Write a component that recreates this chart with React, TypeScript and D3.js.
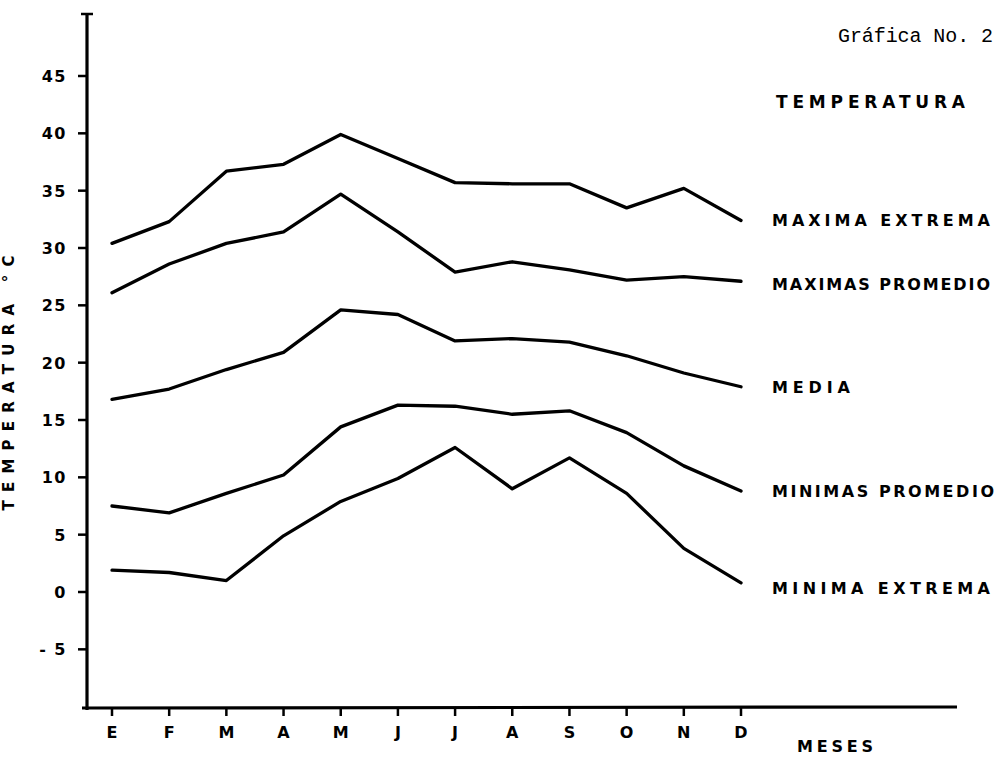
import React from "react";
import * as d3 from "d3";

const months = ["E", "F", "M", "A", "M", "J", "J", "A", "S", "O", "N", "D"];
const yTicks = [-5, 0, 5, 10, 15, 20, 25, 30, 35, 40, 45];

const maximaExtrema = [30.4, 32.3, 36.7, 37.3, 39.9, 37.8, 35.7, 35.6, 35.6, 33.5, 35.2, 32.4];
const maximasPromedio = [26.1, 28.6, 30.4, 31.4, 34.7, 31.4, 27.9, 28.8, 28.1, 27.2, 27.5, 27.1];
const media = [16.8, 17.7, 19.4, 20.9, 24.6, 24.2, 21.9, 22.1, 21.8, 20.6, 19.1, 17.9];
const minimasPromedio = [7.5, 6.9, 8.6, 10.2, 14.4, 16.3, 16.2, 15.5, 15.8, 13.9, 11.0, 8.8];
const minimaExtrema = [1.9, 1.7, 1.0, 4.9, 7.9, 9.9, 12.6, 9.0, 11.7, 8.6, 3.8, 0.8];

const seriesNames = ["MAXIMA EXTREMA", "MAXIMAS PROMEDIO", "MEDIA", "MINIMAS PROMEDIO", "MINIMA EXTREMA"];
const seriesValues = [maximaExtrema, maximasPromedio, media, minimasPromedio, minimaExtrema];

const W = 998;
const H = 757;

export default function App() {
  const y = d3.scaleLinear().domain([0, 45]).range([592, 76]);
  const x = d3.scalePoint<number>().domain(d3.range(months.length)).range([112, 741]);
  const line = d3
    .line<number>()
    .x((_, i) => x(i) as number)
    .y((v) => y(v));

  const axisX = 87;
  const axisTop = 14;
  const axisBottom = 708;

  const labelFont = "'DejaVu Sans', 'Liberation Sans', Arial, sans-serif";
  const labelPos = [
    { y: 226, w: 218 },
    { y: 290, w: 218 },
    { y: 393, w: 78 },
    { y: 497, w: 222 },
    { y: 594, w: 218 },
  ];

  return (
    <svg
      width={W}
      height={H}
      viewBox={`0 0 ${W} ${H}`}
      style={{ position: "absolute", left: 0, top: 0, background: "#fff" }}
    >
      <rect x={0} y={0} width={W} height={H} fill="#fff" />
      {/* Y axis */}
      <line x1={axisX} y1={axisTop} x2={axisX} y2={axisBottom + 2} stroke="#000" strokeWidth={3.2} />
      <line x1={axisX - 6} y1={axisTop} x2={axisX + 6} y2={axisTop} stroke="#000" strokeWidth={2.5} />
      {yTicks.map((t) => (
        <g key={t}>
          <line x1={axisX - 9} y1={y(t)} x2={axisX} y2={y(t)} stroke="#000" strokeWidth={2.5} />
          <text
            x={67}
            y={y(t) + 6}
            textAnchor="end"
            fontFamily={labelFont}
            fontWeight="bold"
            fontSize={16}
            letterSpacing={1.5}
          >
            {t < 0 ? "- " + Math.abs(t) : String(t)}
          </text>
        </g>
      ))}
      {/* X axis */}
      <line x1={82} y1={axisBottom} x2={957} y2={axisBottom - 1} stroke="#000" strokeWidth={3.2} />
      {months.map((m, i) => (
        <g key={i}>
          <line
            x1={x(i) as number}
            y1={axisBottom}
            x2={x(i) as number}
            y2={axisBottom + 8}
            stroke="#000"
            strokeWidth={2.5}
          />
          <text
            x={x(i) as number}
            y={738}
            textAnchor="middle"
            fontFamily={labelFont}
            fontWeight="bold"
            fontSize={16}
          >
            {m}
          </text>
        </g>
      ))}
      <text
        x={797}
        y={752}
        fontFamily={labelFont}
        fontWeight="bold"
        fontSize={16}
        textLength={76}
        lengthAdjust="spacing"
      >
        MESES
      </text>
      {/* Y axis title */}
      <text
        transform="translate(14, 383) rotate(-90)"
        textAnchor="middle"
        fontFamily={labelFont}
        fontWeight="bold"
        fontSize={15}
        textLength={255}
        lengthAdjust="spacing"
      >
        TEMPERATURA  °C
      </text>
      {/* series lines */}
      {seriesValues.map((vals, k) => (
        <path
          key={k}
          d={line(vals) || ""}
          fill="none"
          stroke="#000"
          strokeWidth={3.3}
          strokeLinejoin="round"
          strokeLinecap="round"
        />
      ))}
      {/* series labels */}
      {seriesNames.map((n, k) => (
        <text
          key={n}
          x={772}
          y={labelPos[k].y}
          fontFamily={labelFont}
          fontWeight="bold"
          fontSize={16}
          textLength={labelPos[k].w}
          lengthAdjust="spacing"
        >
          {n}
        </text>
      ))}
      <text
        x={776}
        y={108}
        fontFamily={labelFont}
        fontWeight="bold"
        fontSize={17}
        textLength={189}
        lengthAdjust="spacing"
      >
        TEMPERATURA
      </text>
      <text
        x={838}
        y={42}
        fontFamily="'Liberation Mono', 'DejaVu Sans Mono', monospace"
        fontSize={20}
        textLength={155}
        lengthAdjust="spacing"
      >
        Gráfica No. 2
      </text>
    </svg>
  );
}
